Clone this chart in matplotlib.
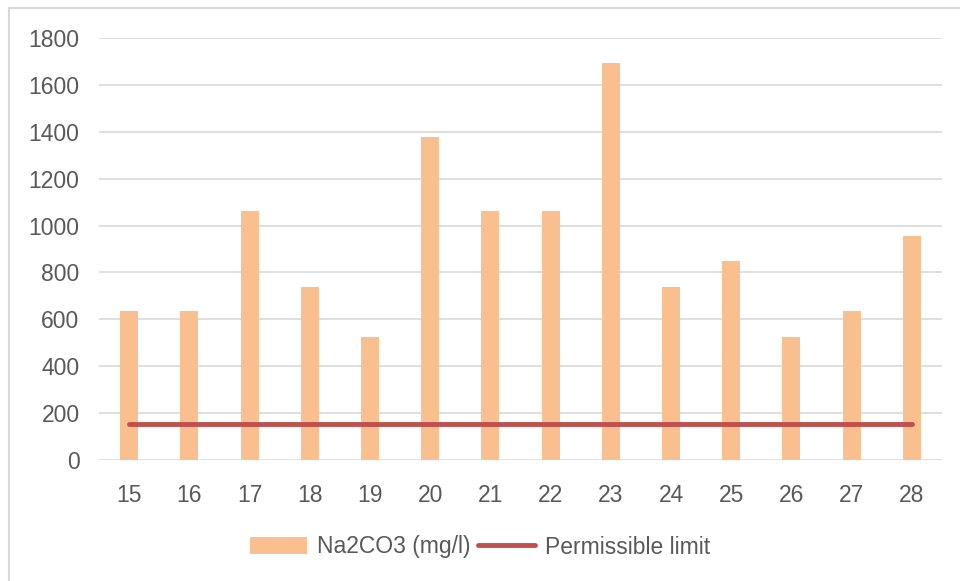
import matplotlib.pyplot as plt
import numpy as np

# sample numbers and Na2CO3 concentration
samples = [15, 16, 17, 18, 19, 20, 21, 22, 23, 24, 25, 26, 27, 28]
na2co3 = [636, 636, 1063, 738, 525, 1378, 1063, 1063, 1694, 738, 849, 525, 636, 955]
limit = [153] * len(samples)

plt.rcParams['font.family'] = ['Liberation Sans', 'DejaVu Sans']

fig = plt.figure(figsize=(9.6, 5.81), dpi=100)
ax = fig.add_axes([99 / 960, 121 / 581, 843 / 960, 422 / 581])

x = np.arange(len(samples))
bars = ax.bar(x, na2co3, width=0.3, color='#F9BF8F', label='Na2CO3 (mg/l)', zorder=2)
line, = ax.plot(x, limit, color='#C0504D', lw=3.5, solid_capstyle='round',
                label='Permissible limit', zorder=3)

ax.set_xlim(-0.5, len(samples) - 0.5)
ax.set_ylim(0, 1800)
ax.set_yticks(range(0, 1801, 200))
ax.set_xticks(x)
ax.set_xticklabels(samples)
ax.grid(axis='y', color='#D9D9D9', lw=1.2, zorder=0)
for s in ax.spines.values():
    s.set_visible(False)
ax.tick_params(length=0, labelsize=16.5, colors='#595959')
ax.tick_params(axis='x', pad=17)
ax.tick_params(axis='y', pad=14)

fig.legend([bars, line], ['Na2CO3 (mg/l)', 'Permissible limit'],
           loc='center', bbox_to_anchor=(0.5, 1 - 547 / 581), ncol=2,
           frameon=False, fontsize=16.5, labelcolor='#595959',
           handlelength=2.5, handleheight=0.7, handletextpad=0.45,
           columnspacing=0.3)

# outer chart frame (top and left edges)
fig.add_artist(plt.Line2D([9 / 960, 1], [1 - 8 / 581, 1 - 8 / 581],
                          color='#D9D9D9', lw=1.5, transform=fig.transFigure))
fig.add_artist(plt.Line2D([9 / 960, 9 / 960], [0, 1 - 8 / 581],
                          color='#D9D9D9', lw=1.5, transform=fig.transFigure))

fig.savefig('out.png', dpi=100)
